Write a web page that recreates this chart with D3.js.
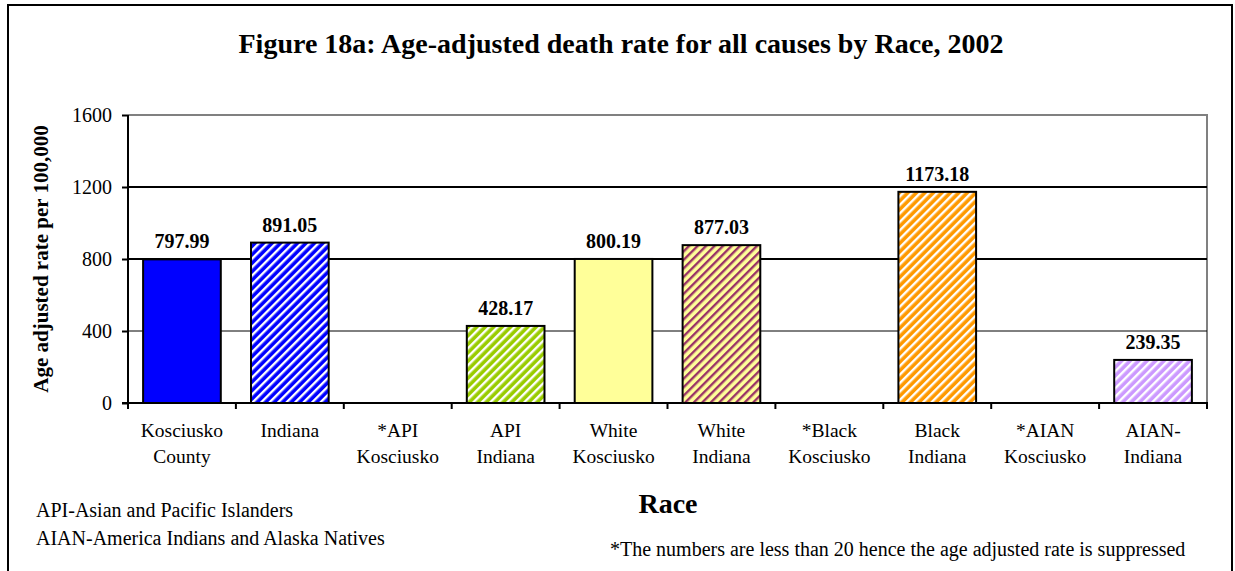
<!DOCTYPE html>
<html>
<head>
<meta charset="utf-8">
<style>
body { margin: 0; background: #fff; }
svg { display: block; font-family: "Liberation Serif", "Times New Roman", serif; }
</style>
</head>
<body>
<svg width="1235" height="571"></svg>
<script src="https://d3js.org/d3.v7.min.js"></script>
<script>
// categories (two label lines each) and values; null = suppressed
var categories = ["Kosciusko County", "Indiana", "*API Kosciusko", "API Indiana", "White Kosciusko",
                  "White Indiana", "*Black Kosciusko", "Black Indiana", "*AIAN Kosciusko", "AIAN-Indiana"];
var labelLines = [["Kosciusko", "County"], ["Indiana", ""], ["*API", "Kosciusko"], ["API", "Indiana"],
                  ["White", "Kosciusko"], ["White", "Indiana"], ["*Black", "Kosciusko"], ["Black", "Indiana"],
                  ["*AIAN", "Kosciusko"], ["AIAN-", "Indiana"]];
var values = [797.99, 891.05, null, 428.17, 800.19, 877.03, null, 1173.18, null, 239.35];
var yTicks = [0, 400, 800, 1200, 1600];

// fill: base colour + stripe colour (null = solid)
var fills = [
  {base: "#0000ff", stripe: null},
  {base: "#0000ff", stripe: "#ffffff"},
  {base: "#ffffff", stripe: null},
  {base: "#99cc00", stripe: "#ffffff"},
  {base: "#ffff99", stripe: null},
  {base: "#ffff99", stripe: "#993366"},
  {base: "#ffffff", stripe: null},
  {base: "#ff9900", stripe: "#ffffff"},
  {base: "#ffffff", stripe: null},
  {base: "#cc99ff", stripe: "#ffffff"}
];

var svg = d3.select("svg");
var pLeft = 128, pRight = 1207, pTop = 115, pBottom = 403;

var x = d3.scaleBand().domain(categories).range([pLeft, pRight]).paddingInner(0.28).paddingOuter(0.14);
var y = d3.scaleLinear().domain([0, 1600]).range([pBottom, pTop]);

// outer frame
svg.append("rect").attr("x", 8).attr("y", 5).attr("width", 1224).attr("height", 580)
  .attr("fill", "none").attr("stroke", "#000").attr("stroke-width", 2);

// stripe patterns
var defs = svg.append("defs");
fills.forEach(function(f, i) {
  if (!f.stripe) return;
  var p = defs.append("pattern").attr("id", "pat" + i).attr("patternUnits", "userSpaceOnUse")
    .attr("width", 6).attr("height", 6).attr("patternTransform", "rotate(45)");
  p.append("rect").attr("width", 6).attr("height", 6).attr("fill", f.base);
  p.append("rect").attr("x", 0).attr("width", 2.4).attr("height", 6).attr("fill", f.stripe);
});

// plot area border (top/right grey)
svg.append("path").attr("d", "M" + pLeft + "," + pTop + "H" + pRight + "V" + pBottom)
  .attr("fill", "none").attr("stroke", "#808080").attr("stroke-width", 2);

// gridlines
svg.append("g").selectAll("line").data(yTicks.filter(function(d) { return d > 0 && d < 1600; }))
  .enter().append("line")
  .attr("x1", pLeft).attr("x2", pRight)
  .attr("y1", function(d) { return y(d); }).attr("y2", function(d) { return y(d); })
  .attr("stroke", "#000").attr("stroke-width", function(d) { return d === 400 ? 1 : 2; });

var shown = values.map(function(v, i) { return {v: v, i: i}; })
  .filter(function(d) { return d.v !== null; });

// bars
svg.append("g").selectAll("rect").data(shown)
  .enter().append("rect")
  .attr("x", function(d) { return x(categories[d.i]); })
  .attr("width", x.bandwidth())
  .attr("y", function(d) { return y(d.v); })
  .attr("height", function(d) { return y(0) - y(d.v); })
  .attr("fill", function(d) { return fills[d.i].stripe ? "url(#pat" + d.i + ")" : fills[d.i].base; })
  .attr("stroke", "#000").attr("stroke-width", 2);

// value labels
svg.append("g").selectAll("text").data(shown)
  .enter().append("text")
  .attr("x", function(d) { return x(categories[d.i]) + x.bandwidth() / 2; })
  .attr("y", function(d) { return y(d.v) - 11; })
  .attr("text-anchor", "middle").attr("font-weight", "bold").attr("font-size", 20)
  .text(function(d) { return d.v.toFixed(2); });

// y axis
var yAxis = svg.append("g").attr("transform", "translate(" + pLeft + ",0)")
  .call(d3.axisLeft(y).tickValues(yTicks).tickFormat(d3.format("d")).tickSize(6).tickPadding(10));
yAxis.select(".domain").attr("stroke", "#000").attr("stroke-width", 2).attr("d", "M0," + pTop + "V" + (pBottom + 1));
yAxis.selectAll(".tick line").attr("stroke", "#000").attr("stroke-width", 2);
yAxis.selectAll(".tick text").attr("font-size", 20).attr("font-family", "Liberation Serif").attr("fill", "#000");

// x axis
var bounds = d3.range(categories.length + 1).map(function(i) { return pLeft + i * (pRight - pLeft) / categories.length; });
svg.append("line").attr("x1", pLeft - 6).attr("x2", pRight + 1).attr("y1", pBottom).attr("y2", pBottom)
  .attr("stroke", "#000").attr("stroke-width", 2);
svg.append("g").selectAll("line").data(bounds).enter().append("line")
  .attr("x1", function(d) { return d; }).attr("x2", function(d) { return d; })
  .attr("y1", pBottom).attr("y2", pBottom + 6)
  .attr("stroke", "#000").attr("stroke-width", 2);

var catLabels = svg.append("g").selectAll("text").data(labelLines).enter().append("text")
  .attr("text-anchor", "middle").attr("font-size", 19.5);
catLabels.append("tspan").attr("x", function(d, i) { return x(categories[i]) + x.bandwidth() / 2; })
  .attr("y", 437).text(function(d) { return d[0]; });
catLabels.append("tspan").attr("x", function(d, i) { return x(categories[i]) + x.bandwidth() / 2; })
  .attr("y", 463).text(function(d) { return d[1]; });

// titles
svg.append("text").attr("x", 621).attr("y", 53).attr("text-anchor", "middle")
  .attr("font-weight", "bold").attr("font-size", 28)
  .text("Figure 18a: Age-adjusted death rate for all causes by Race, 2002");
svg.append("text").attr("transform", "translate(48,259) rotate(-90)").attr("text-anchor", "middle")
  .attr("font-weight", "bold").attr("font-size", 21)
  .text("Age adjusted rate per 100,000");
svg.append("text").attr("x", 668).attr("y", 513).attr("text-anchor", "middle")
  .attr("font-weight", "bold").attr("font-size", 28).text("Race");

// footnotes
svg.append("text").attr("x", 36).attr("y", 517).attr("font-size", 20).text("API-Asian and Pacific Islanders");
svg.append("text").attr("x", 36).attr("y", 545).attr("font-size", 20).text("AIAN-America Indians and Alaska Natives");
svg.append("text").attr("x", 610).attr("y", 556).attr("font-size", 20)
  .text("*The numbers are less than 20 hence the age adjusted rate is suppressed");
</script>
</body>
</html>
